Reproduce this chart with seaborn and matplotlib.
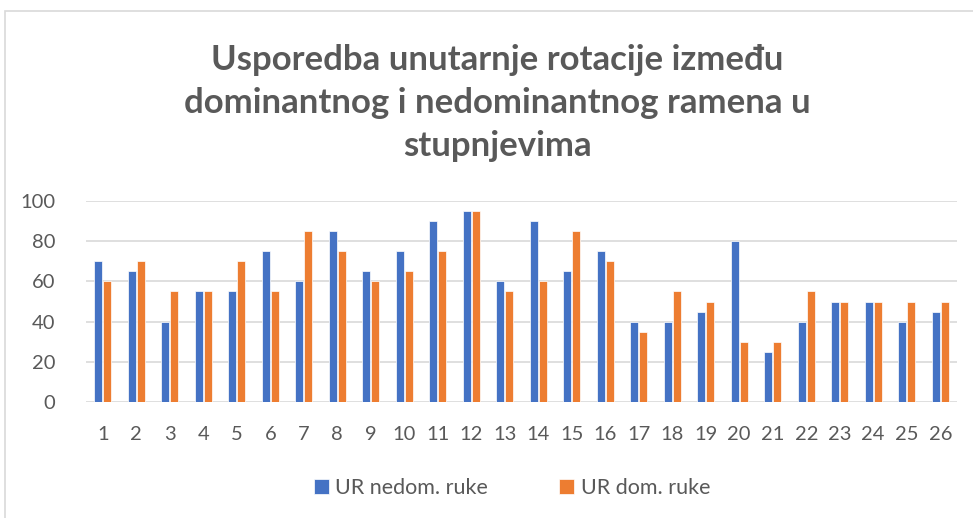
import pandas as pd
import matplotlib.pyplot as plt
import seaborn as sns
from matplotlib.patches import Rectangle

# values
cases = [str(i) for i in range(1, 27)]
ur_nedom = [70, 65, 40, 55, 55, 75, 60, 85, 65, 75, 90, 95, 60, 90, 65, 75, 40, 40, 45, 80, 25, 40, 50, 50, 40, 45]
ur_dom = [60, 70, 55, 55, 70, 55, 85, 75, 60, 65, 75, 95, 55, 60, 85, 70, 35, 55, 50, 30, 30, 55, 50, 50, 50, 50]
series_names = ['UR nedom. ruke', 'UR dom. ruke']
title = 'Usporedba unutarnje rotacije između\ndominantnog i nedominantnog ramena u\nstupnjevima'

df = pd.DataFrame({
    'case': cases * 2,
    'value': ur_nedom + ur_dom,
    'series': [series_names[0]] * len(cases) + [series_names[1]] * len(cases),
})

sns.set_style('white')
plt.rcParams['font.family'] = ['Lato', 'DejaVu Sans']
text_col = '#595959'
grid_col = '#D9D9D9'

fig = plt.figure(figsize=(9.73, 5.18), dpi=100)
ax = fig.add_axes([86 / 973, 1 - 402 / 518, 871 / 973, 201 / 518])

sns.barplot(data=df, x='case', y='value', hue='series', order=cases,
            palette=['#4472C4', '#ED7D31'], saturation=1, width=0.55, gap=0.12,
            edgecolor='white', linewidth=0.5, ax=ax, zorder=3)

ax.set_ylim(0, 100)
ax.set_xlim(-0.5, len(cases) - 0.5)
ax.set_yticks(range(0, 101, 20))
ax.yaxis.grid(True, color=grid_col, linewidth=1.2, zorder=0)
ax.set_axisbelow(True)
for s in ax.spines.values():
    s.set_visible(False)
ax.tick_params(axis='both', length=0, labelsize=14.5, colors=text_col)
ax.tick_params(axis='x', pad=17)
ax.tick_params(axis='y', pad=22)
ax.set_xlabel('')
ax.set_ylabel('')

ax.legend(loc='center', bbox_to_anchor=(512 / 973, 1 - 488 / 518),
          bbox_transform=fig.transFigure, ncol=2, frameon=False,
          fontsize=15.5, handlelength=0.7, handleheight=0.7,
          handletextpad=0.3, columnspacing=3.3, labelcolor=text_col)

fig.text(497 / 973, 1 - 103 / 518, title, ha='center', va='center',
         fontsize=25, fontweight='bold', color=text_col, linespacing=1.42)

fig.patches.append(Rectangle((5 / 973, -0.1), 1.2, 1.1 - 11 / 518,
                             transform=fig.transFigure, fill=False,
                             edgecolor=grid_col, linewidth=1.2))

fig.savefig('out.png', dpi=100)
